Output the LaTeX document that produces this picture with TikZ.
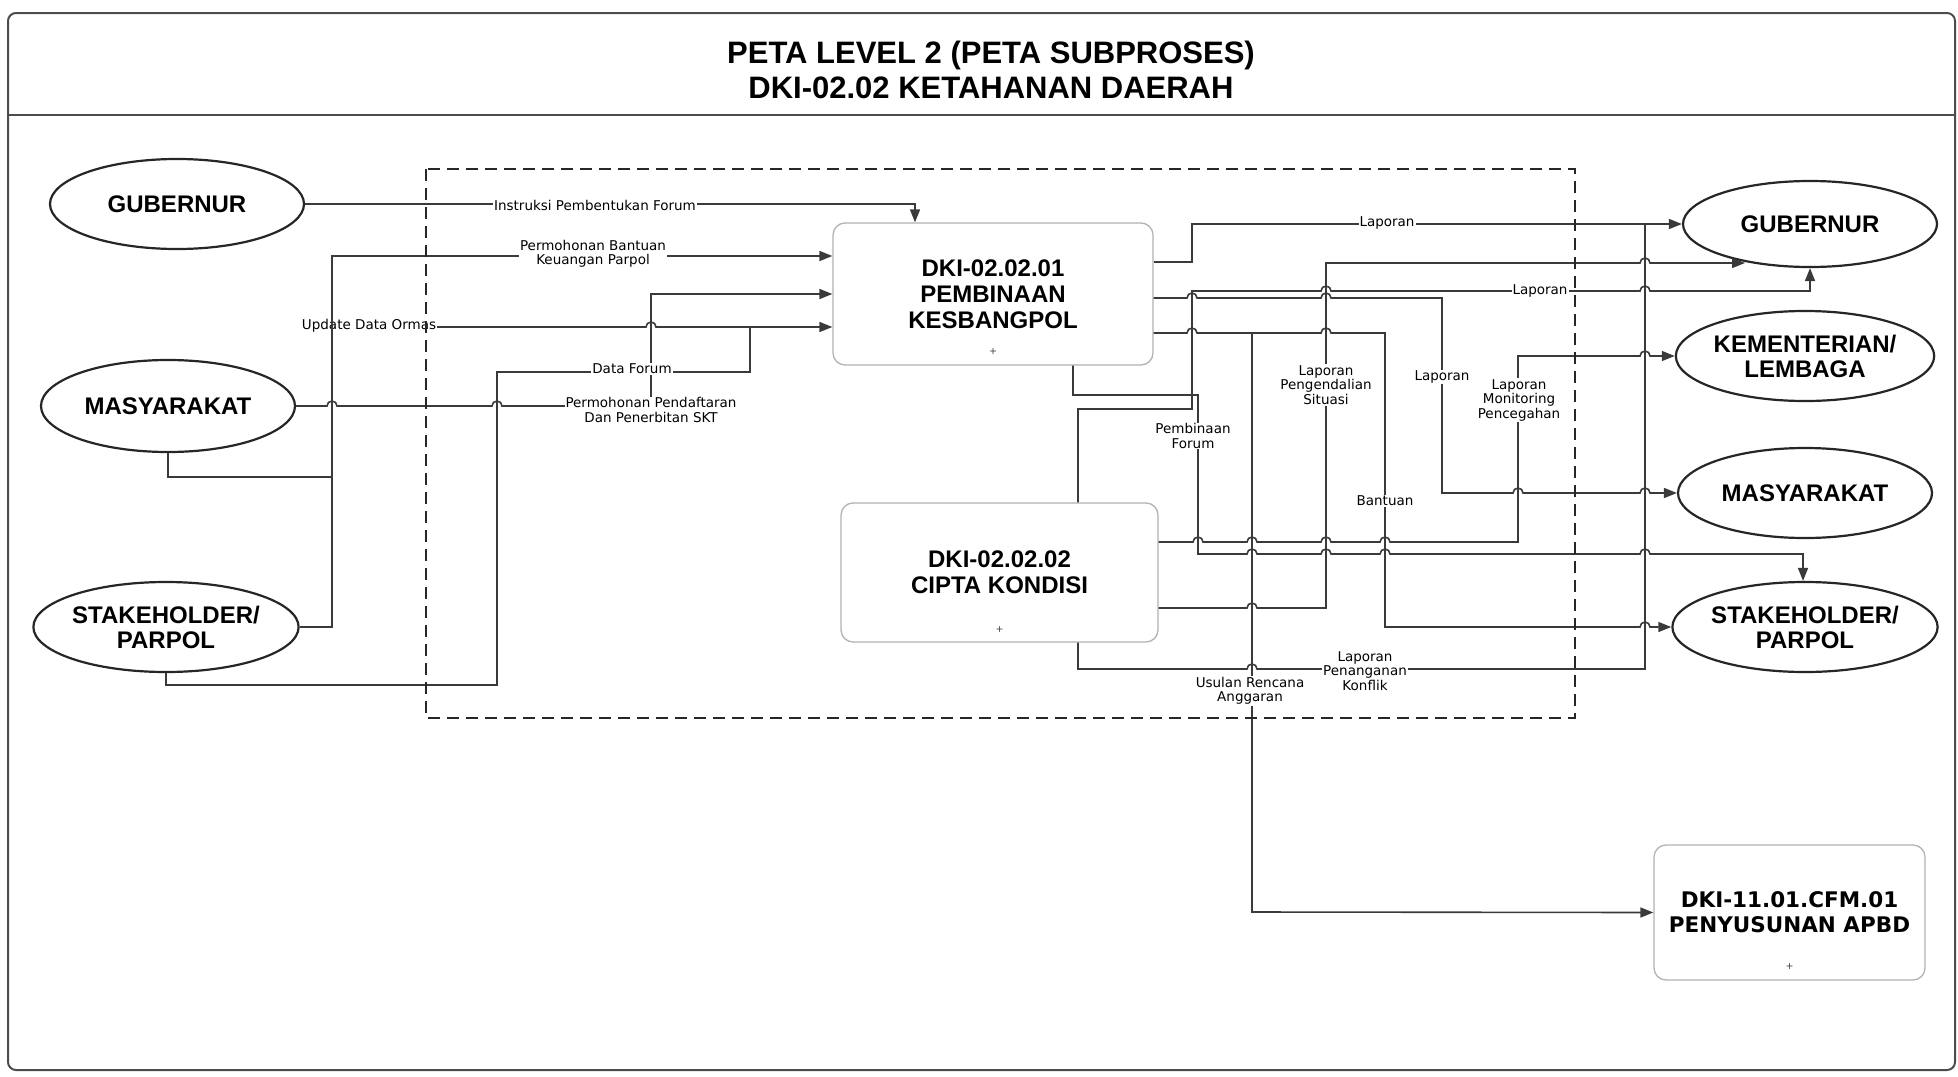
\documentclass[tikz,border=0pt]{standalone}
\usepackage{fontspec}
\setmainfont{Liberation Sans}
\newfontfamily\djv{DejaVu Sans}
\usetikzlibrary{shapes.geometric,arrows.meta}
\definecolor{lc}{HTML}{3A3A3A}
\newcommand{\entf}{\bfseries\fontsize{24}{25}\selectfont}
\newcommand{\labf}{\djv\fontsize{13.5}{14.5}\selectfont}
\newcommand{\boxf}{\bfseries\fontsize{24}{26}\selectfont}
\newcommand{\boxg}{\djv\bfseries\fontsize{21.5}{25}\selectfont}
\newcommand{\titf}{\bfseries\fontsize{31}{33}\selectfont}
\tikzset{
  conn/.style={draw=lc, line width=1.6pt},
  arr/.style={conn, -{Triangle[length=13pt,width=10pt]}},
  ent/.style={ellipse, draw=black!85, line width=2.2pt, fill=white, minimum width=254pt, minimum height=90pt, inner sep=0pt, align=center, font=\entf},
  proc/.style={rectangle, rounded corners=12pt, draw=black!30, line width=1.3pt, fill=white, inner sep=0pt, align=center},
  lab/.style={fill=white, inner sep=1pt, align=center, font=\labf},
  mk/.style={font=\fontsize{12}{12}\selectfont, inner sep=0pt, text=black!70},
  frame/.style={draw=black!70, line width=2pt},
  dbox/.style={draw=black!85, line width=1.8pt, dash pattern=on 12pt off 7pt},
}
\begin{document}
\begin{tikzpicture}[x=1pt,y=-1pt]
\useasboundingbox (0,0) rectangle (1958,1076);
% frame
\draw[frame, rounded corners=8pt] (8,13) rectangle (1955,1070);
\draw[frame] (8,115) -- (1955,115);
\node[font=\titf] (t1) at (991,55) {PETA LEVEL 2 (PETA SUBPROSES)};
\node[font=\titf] (t2) at (991,88) {DKI-02.02 KETAHANAN DAERAH};

% entities
\node[ent] (gL) at (177,204) {GUBERNUR};
\node[ent, minimum height=92pt] (mL) at (168,406) {MASYARAKAT};
\node[ent] (sL) at (166,627) {STAKEHOLDER/\\PARPOL};
\node[ent, minimum height=86pt] (gR) at (1810,224) {GUBERNUR};
\node[ent] (kR) at (1805,356) {KEMENTERIAN/\\LEMBAGA};
\node[ent] (mR) at (1805,493) {MASYARAKAT};
\node[ent] (sR) at (1805,627) {STAKEHOLDER/\\PARPOL};

% processes
\node[proc, minimum width=320pt, minimum height=142pt, font=\boxf] (b1) at (993,294) {DKI-02.02.01\\PEMBINAAN\\KESBANGPOL};
\node[mk] (b1m) at (993,352) {+};
\node[proc, minimum width=317pt, minimum height=139pt, font=\boxf] (b2) at (999.5,572.5) {DKI-02.02.02\\CIPTA KONDISI};
\node[mk] (b2m) at (999.5,630) {+};
\node[proc, minimum width=271pt, minimum height=135pt, font=\boxg] (b3) at (1789.5,912.5) {DKI-11.01.CFM.01\\PENYUSUNAN APBD};
\node[mk] (b3m) at (1789.5,967) {+};

% ---- left side ----
% Update Data Ormas
\draw[arr] (332,327) -- (646,327) arc[start angle=180,end angle=0,radius=5pt] -- (b1.west |- 0,327);
\node[lab] (lUpd) at (369,326) {Update Data Ormas};
% Permohonan Bantuan Keuangan Parpol (bus)
\draw[arr] (sL.east) -- (332,627) -- (332,256) -- (b1.west |- 0,256);
\draw[conn] (mL.south) -- (168,477) -- (332,477);
% Instruksi Pembentukan Forum
\draw[arr] (gL.east) -| (b1.north -| 915,0);
% Permohonan Pendaftaran
\draw[arr] (mL.east) -- (327,406) arc[start angle=180,end angle=0,radius=5pt] -- (492,406) arc[start angle=180,end angle=0,radius=5pt] -- (651,406) -- (651,294) -- (b1.west |- 0,294);
% Data Forum
\draw[conn] (sL.south) -- (166,685) -- (497,685) -- (497,372) -- (750,372) -- (750,327);

\node[lab] (lIns) at (595,205) {Instruksi Pembentukan Forum};
\node[lab] (lBan) at (593,254) {Permohonan Bantuan\\Keuangan Parpol};
\node[lab] (lDat) at (632,369) {Data Forum};
\node[lab] (lPen) at (651,410) {Permohonan Pendaftaran\\Dan Penerbitan SKT};

% ---- right side ----
% Laporan (b1 -> gR)
\draw[arr] (b1.east |- 0,262) -- (1192,262) -- (1192,224) -- (gR.west);
% Laporan Penanganan Konflik (bus)
\draw[conn] (b2.south -| 1078,0) -- (1078,669) -- (1247,669) arc[start angle=180,end angle=0,radius=5pt] -- (1645,669) -- (1645,224);
% Laporan Pengendalian Situasi
\coordinate (gRa) at (1745,263);
\draw[arr] (b2.east |- 0,608) -- (1247,608) arc[start angle=180,end angle=0,radius=5pt] -- (1326,608) -- (1326,263) -- (1640,263) arc[start angle=180,end angle=0,radius=5pt] -- (gRa);
% Laporan (b2 -> gR bottom)
\draw[arr] (b2.north -| 1078,0) -- (1078,409) -- (1192,409) -- (1192,291) -- (1321,291) arc[start angle=180,end angle=0,radius=5pt] -- (1640,291) arc[start angle=180,end angle=0,radius=5pt] -- (1810,291) -- (gR.south);
% Laporan (b1 -> mR)
\draw[arr] (b1.east |- 0,298) -- (1187,298) arc[start angle=180,end angle=0,radius=5pt] -- (1321,298) arc[start angle=180,end angle=0,radius=5pt] -- (1442,298) -- (1442,493) -- (1513,493) arc[start angle=180,end angle=0,radius=5pt] -- (1640,493) arc[start angle=180,end angle=0,radius=5pt] -- (mR.west);
% Bantuan (b1 -> sR)
\draw[arr] (b1.east |- 0,333) -- (1187,333) arc[start angle=180,end angle=0,radius=5pt] -- (1321,333) arc[start angle=180,end angle=0,radius=5pt] -- (1385,333) -- (1385,627) -- (1640,627) arc[start angle=180,end angle=0,radius=5pt] -- (sR.west);
% Usulan Rencana Anggaran
\draw[arr] (1252,333) -- (1252,912) -- (b3.west);
% Pembinaan Forum
\draw[arr] (b1.south -| 1073,0) -- (1073,395) -- (1198,395) -- (1198,554) -- (1247,554) arc[start angle=180,end angle=0,radius=5pt] -- (1321,554) arc[start angle=180,end angle=0,radius=5pt] -- (1380,554) arc[start angle=180,end angle=0,radius=5pt] -- (1640,554) arc[start angle=180,end angle=0,radius=5pt] -- (1803,554) -- (sR.north -| 1803,0);
% Laporan Monitoring Pencegahan
\draw[arr] (b2.east |- 0,542) -- (1193,542) arc[start angle=180,end angle=0,radius=5pt] -- (1247,542) arc[start angle=180,end angle=0,radius=5pt] -- (1321,542) arc[start angle=180,end angle=0,radius=5pt] -- (1380,542) arc[start angle=180,end angle=0,radius=5pt] -- (1518,542) -- (1518,356) -- (1640,356) arc[start angle=180,end angle=0,radius=5pt] -- (kR.west);

\node[lab] (lLap1) at (1387,223) {Laporan};
\node[lab] (lLap2) at (1540,291) {Laporan};
\node[lab] (lPeng) at (1326,385) {Laporan\\Pengendalian\\Situasi};
\node[lab] (lLap3) at (1442,377) {Laporan};
\node[lab] (lMon) at (1519,400) {Laporan\\Monitoring\\Pencegahan};
\node[lab] (lPem) at (1193,436) {Pembinaan\\Forum};
\node[lab] (lBnt) at (1385,501) {Bantuan};
\node[lab] (lKon) at (1365,671) {Laporan\\Penanganan\\Konflik};
\node[lab] (lUsu) at (1250,691) {Usulan Rencana\\Anggaran};

% dashed boundary
\draw[dbox] (426,169) rectangle (1575,718);
\end{tikzpicture}
\end{document}
